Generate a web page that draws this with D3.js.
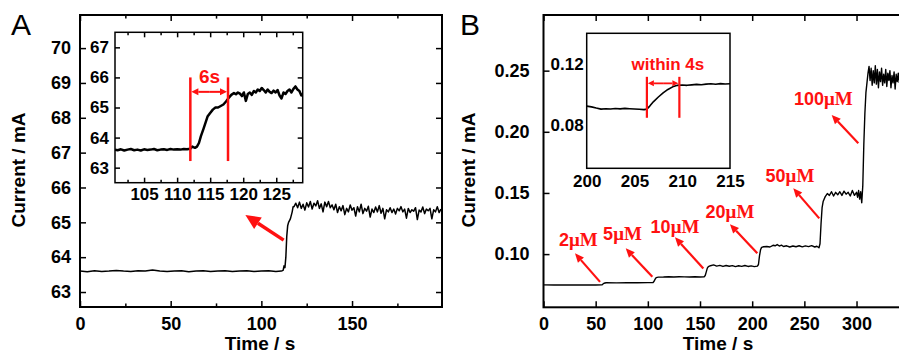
<!DOCTYPE html>
<html>
<head>
<meta charset="utf-8">
<script src="https://cdn.jsdelivr.net/npm/d3@7"></script>
<style>
  body { margin: 0; background: #fff; }
  text { font-family: "Liberation Sans", Arial, sans-serif; }
  .tick line { stroke: #000; stroke-width: 1.5; }
</style>
</head>
<body>
<svg width="899" height="354"></svg>
<script>
// ---- data (time s, current mA) ----
const aBase = [[0,63.6],[4,63.58],[8,63.61],[12,63.59],[16,63.6],[20,63.62],[24,63.6],[28,63.59],[32,63.61],[36,63.6],
  [40,63.63],[44,63.6],[48,63.59],[52,63.6],[56,63.61],[60,63.58],[64,63.6],[68,63.61],[72,63.59],[76,63.6],[80,63.61],
  [84,63.59],[88,63.6],[92,63.61],[96,63.59],[100,63.6],[104,63.61],[108,63.59],[111,63.6],[112,63.62],[112.5,63.75],
  [113,63.7],[113.5,64.0],[114,64.6],[114.5,64.9],[115,65.0],[116,65.1],[117,65.3],[117.5,65.45]];
const aPlateauStart = 118;
const aPlateau = [65.45,65.55,65.42,65.58,65.40,65.52,65.35,65.56,65.44,65.60,65.38,65.55,65.47,65.62,65.40,65.53,
  65.30,65.58,65.45,65.60,65.42,65.50,65.36,65.52,65.28,65.45,65.33,65.48,65.22,65.40,65.30,65.50,65.35,65.42,65.18,
  65.45,65.30,65.52,65.25,65.40,65.32,65.46,65.15,65.38,65.28,65.44,65.30,65.48,65.26,65.40,65.10,65.36,65.30,65.42,
  65.28,65.38,65.24,65.40,65.33,65.45,65.30,65.38,65.12,65.40,65.28,65.36,65.32,65.42,65.08,65.35,65.30,65.44,65.25,
  65.38,65.33,65.40,65.10,65.36,65.30,65.45,65.28,65.38];
const aInset = [[100.6,63.6],[101,63.58],[101.5,63.61],[102,63.57],[102.5,63.6],[103,63.62],[103.5,63.58],[104,63.6],
  [104.5,63.57],[105,63.61],[105.5,63.59],[106,63.6],[106.5,63.62],[107,63.58],[107.5,63.6],[108,63.61],[108.5,63.59],
  [109,63.62],[109.5,63.6],[110,63.61],[110.5,63.6],[111,63.62],[111.5,63.61],[112,63.63],[112.3,63.7],[112.7,63.66],
  [113,63.7],[113.3,63.82],[113.6,64.05],[114,64.3],[114.3,64.5],[114.6,64.7],[115,64.82],[115.4,64.93],[115.8,65.0],
  [116.2,65.0],[116.6,65.05],[117,65.1],[117.4,65.2],[117.8,65.32],[118.2,65.42],[118.6,65.48],[118.9,65.44],[119.2,65.5],
  [119.5,65.46],[119.8,65.38],[120.1,65.5],[120.4,65.22],[120.7,65.45],[121,65.5],[121.3,65.42],[121.6,65.55],[121.9,65.5],
  [122.2,65.6],[122.5,65.55],[122.8,65.65],[123.1,65.58],[123.4,65.5],[123.7,65.6],[124,65.52],[124.3,65.48],[124.6,65.56],
  [124.9,65.5],[125.2,65.58],[125.5,65.4],[125.8,65.3],[126.1,65.5],[126.4,65.45],[126.7,65.55],[127,65.6],[127.3,65.5],
  [127.6,65.62],[127.9,65.7],[128.2,65.6],[128.5,65.55],[128.8,65.4],[129,65.45]];
const bTrace = [[0,0.0748],[10,0.0747],[20,0.0748],[30,0.0747],[40,0.0748],[50,0.0747],[56,0.0748],[57,0.0755],[58,0.0762],
  [60,0.0766],[70,0.0765],[80,0.0767],[90,0.0766],[100,0.0767],[105,0.0768],[106,0.0778],[107,0.0795],[108,0.0808],
  [110,0.0812],[115,0.0813],[120,0.0815],[125,0.0813],[130,0.0815],[135,0.0814],[140,0.0813],[145,0.0815],[150,0.0813],
  [154,0.0815],[155,0.0825],[156,0.0855],[157,0.0885],[158,0.0898],[160,0.0905],[163,0.0912],[166,0.0902],[169,0.0908],
  [172,0.0899],[175,0.0907],[178,0.0901],[181,0.0906],[184,0.0898],[187,0.0905],[190,0.0900],[193,0.0907],[196,0.0899],
  [199,0.0904],[202,0.0898],[205,0.0902],[206,0.0915],[207,0.0985],[208,0.1035],[209,0.1055],[211,0.106],[214,0.1062],
  [217,0.1058],[220,0.1072],[222,0.1068],[224,0.1078],[226,0.1066],[228,0.1073],[230,0.1062],[233,0.1068],[236,0.1058],
  [239,0.1066],[242,0.1060],[245,0.1068],[248,0.1059],[251,0.1067],[254,0.1061],[257,0.1069],[260,0.1058],[262,0.1064],
  [264,0.1052],[265,0.1085],[266,0.125],[267,0.138],[268,0.143],[270,0.147],[272,0.1495],[274,0.148],[276,0.151],
  [278,0.1475],[280,0.1505],[282,0.1485],[284,0.151],[286,0.148],[288,0.1515],[290,0.149],[292,0.1505],[294,0.1475],
  [296,0.152],[298,0.148],[300,0.1505],[301,0.1465],[302,0.152],[303,0.145],[304,0.151],[305,0.142],[305.5,0.149],
  [306,0.156],[307,0.19],[308,0.215],[309,0.232],[310,0.24],[311,0.248],[312,0.2535],[313,0.242],[314,0.252],[315,0.238],
  [316,0.25],[317,0.24],[318,0.254],[319,0.239],[320,0.251],[321,0.236],[322,0.249],[323,0.241],[324,0.252],[325,0.238],
  [326,0.247],[327,0.24],[328,0.251],[329,0.237],[330,0.248],[331,0.242],[332,0.25],[333,0.236],[334,0.246],[335,0.24],
  [336,0.249],[337,0.235],[338,0.247],[339,0.241],[340,0.248],[341,0.24]];
const bInset = [[200,0.0925],[200.5,0.092],[201,0.0912],[201.5,0.0905],[202,0.0908],[202.5,0.0906],[203,0.0909],
  [203.5,0.0907],[204,0.091],[204.5,0.0908],[205,0.0906],[205.5,0.0904],[206,0.0902],[206.3,0.0905],[206.6,0.0925],
  [207,0.0955],[207.5,0.0985],[208,0.1012],[208.5,0.1035],[209,0.1052],[209.5,0.1062],[210,0.1064],[210.5,0.1062],
  [211,0.1065],[211.5,0.1068],[212,0.1066],[212.5,0.107],[213,0.1072],[213.5,0.1069],[214,0.1073],[214.5,0.1071],[215,0.1072]];

// ticks
const aXTicks = [0, 50, 100, 150], aXMinor = [25, 75, 125, 175];
const aYTicks = [63, 64, 65, 66, 67, 68, 69, 70];
const aInXTicks = [105, 110, 115, 120, 125], aInXMinor = [102.5, 107.5, 112.5, 117.5, 122.5, 127.5];
const aInYTicks = [63, 64, 65, 66, 67];
const bXTicks = [0, 50, 100, 150, 200, 250, 300];
const bYTicks = [0.10, 0.15, 0.20, 0.25];
const bInXTicks = [200, 205, 210, 215], bInYTicks = [0.08, 0.12];

// annotations
const doses = ['2', '5', '10', '20', '50', '100'];
const doseText = [[33.4,0.1068],[75.7,0.1114],[126,0.1169],[178.7,0.1292],[236.2,0.1592],[268.2,0.2219]];
const doseArrow = [[54.2,0.0773,30.2,0.1006],[104.3,0.0814,78.8,0.1047],[153.2,0.0883,126,0.1137],
  [204.9,0.1006,178.7,0.1245],[264.3,0.1292,239.4,0.1538],[301.7,0.1906,276.2,0.2137]];
const aMarks = [112, 117.7];
const bMarks = [206.3, 209.7];

const red = '#ff1111';
let svg = d3.select('svg');

function arrow(g, x1, y1, x2, y2, w, hl, hw) {
  let dx = x2 - x1, dy = y2 - y1, len = Math.hypot(dx, dy);
  let ux = dx / len, uy = dy / len;
  let bx = x2 - ux * hl, by = y2 - uy * hl;
  g.append('line').attr('x1', x1).attr('y1', y1).attr('x2', bx).attr('y2', by)
    .attr('stroke', red).attr('stroke-width', w);
  g.append('path')
    .attr('d', 'M' + x2 + ',' + y2 + 'L' + (bx - uy * hw / 2) + ',' + (by + ux * hw / 2) +
      'L' + (bx + uy * hw / 2) + ',' + (by - ux * hw / 2) + 'Z')
    .attr('fill', red);
}

function frame(g, x, y, o) {
  let [x0, x1] = x.range(), [y0, y1] = y.range();
  g.append('rect').attr('x', x0).attr('y', y1).attr('width', x1 - x0).attr('height', y0 - y1)
    .attr('fill', o.fill || 'none').attr('stroke', '#000').attr('stroke-width', o.sw);
  let fs = o.fs + 'px';
  let bx = g.append('g').attr('transform', 'translate(0,' + y0 + ')')
    .call(d3.axisBottom(x).tickValues(o.xt).tickSize(o.tick ? -o.tick : 0).tickPadding(o.xpad).tickFormat(d3.format('d')));
  bx.selectAll('text').attr('font-size', fs).attr('font-weight', 'bold').attr('fill', '#000');
  let ly = g.append('g').attr('transform', 'translate(' + x0 + ',0)')
    .call(d3.axisLeft(y).tickValues(o.yt).tickSize(o.tick ? -o.tick : 0).tickPadding(o.ypad).tickFormat(o.yf));
  ly.selectAll('text').attr('font-size', fs).attr('font-weight', 'bold').attr('fill', '#000');
  if (o.tick) {
    g.append('g').attr('transform', 'translate(0,' + y1 + ')')
      .call(d3.axisTop(x).tickValues(o.xt.concat(o.xextra || [])).tickSize(-o.tick).tickFormat(''));
    if (o.xextra) g.append('g').attr('transform', 'translate(0,' + y0 + ')')
      .call(d3.axisBottom(x).tickValues(o.xextra).tickSize(-o.tick).tickFormat(''));
    if (o.right) g.append('g').attr('transform', 'translate(' + x1 + ',0)')
      .call(d3.axisRight(y).tickValues(o.yt).tickSize(-o.tick).tickFormat(''));
    if (o.xm) {
      g.append('g').attr('transform', 'translate(0,' + y0 + ')')
        .call(d3.axisBottom(x).tickValues(o.xm).tickSize(-o.tick * 0.6).tickFormat(''));
      g.append('g').attr('transform', 'translate(0,' + y1 + ')')
        .call(d3.axisTop(x).tickValues(o.xm).tickSize(-o.tick * 0.6).tickFormat(''));
    }
  }
  g.selectAll('.domain').remove();
}

function trace(g, x, y, data, sw, id) {
  let [x0, x1] = x.range(), [y0, y1] = y.range();
  svg.append('clipPath').attr('id', id).append('rect')
    .attr('x', x0).attr('y', y1).attr('width', x1 - x0).attr('height', y0 - y1);
  g.append('path').datum(data)
    .attr('clip-path', 'url(#' + id + ')')
    .attr('d', d3.line().x(d => x(d[0])).y(d => y(d[1])))
    .attr('fill', 'none').attr('stroke', '#000').attr('stroke-width', sw).attr('stroke-linejoin', 'round');
}

// ---------- panel A ----------
let gA = svg.append('g');
let xA = d3.scaleLinear().domain([0, 199.6]).range([80, 442]);
let yA = d3.scaleLinear().domain([62.57, 70.95]).range([307, 15]);
frame(gA, xA, yA, {xt: aXTicks, xm: aXMinor, yt: aYTicks, tick: 6, right: true, xpad: 10, ypad: 9,
  yf: d3.format('d'), fs: 18, sw: 2});
let aData = aBase.concat(aPlateau.map((v, i) => [aPlateauStart + i, v]));
trace(gA, xA, yA, aData, 1.5, 'clipA');
arrow(gA, xA(112.3), yA(64.49), xA(91.2), yA(65.21), 3.5, 15, 14);

// inset A
let xAi = d3.scaleLinear().domain([100.6, 129]).range([115, 302.7]);
let yAi = d3.scaleLinear().domain([62.5, 67.5]).range([182.7, 32.3]);
frame(gA, xAi, yAi, {xt: aInXTicks, xm: aInXMinor, yt: aInYTicks, tick: 5, right: true, xpad: 5, ypad: 6,
  yf: d3.format('d'), fs: 17, sw: 1.5, fill: '#fff'});
trace(gA, xAi, yAi, aInset, 2.5, 'clipAi');
aMarks.forEach(t => gA.append('line').attr('x1', xAi(t)).attr('x2', xAi(t))
  .attr('y1', yAi(63.22)).attr('y2', yAi(66.0)).attr('stroke', red).attr('stroke-width', 2.5));
let amid = (xAi(aMarks[0]) + xAi(aMarks[1])) / 2;
arrow(gA, amid, yAi(65.52), xAi(aMarks[0]) + 1, yAi(65.52), 2, 7, 7);
arrow(gA, amid, yAi(65.52), xAi(aMarks[1]) - 1, yAi(65.52), 2, 7, 7);
gA.append('text').attr('x', xAi(114.9)).attr('y', yAi(65.8)).attr('text-anchor', 'middle')
  .attr('font-size', '19px').attr('font-weight', 'bold').attr('fill', red).text('6s');

// ---------- panel B ----------
let gB = svg.append('g');
let xB = d3.scaleLinear().domain([0, 350]).range([543.5, 908.7]);
let yB = d3.scaleLinear().domain([0.0565, 0.2955]).range([307.3, 15]);
frame(gB, xB, yB, {xt: bXTicks, xextra: [350], yt: bYTicks, tick: 6, right: false, xpad: 10, ypad: 14,
  yf: d3.format('.2f'), fs: 18, sw: 2});
trace(gB, xB, yB, bTrace, 1.4, 'clipB');
doses.forEach((d, i) => {
  let t = gB.append('text').attr('x', xB(doseText[i][0])).attr('y', yB(doseText[i][1]))
    .attr('text-anchor', 'middle').attr('fill', red).attr('font-size', '18px').attr('font-weight', 'bold');
  t.append('tspan').text(d);
  t.append('tspan').attr('font-family', '"Liberation Serif", "Times New Roman", serif').attr('font-size', '19px').text('μM');
  let a = doseArrow[i];
  arrow(gB, xB(a[0]), yB(a[1]), xB(a[2]), yB(a[3]), 2.2, 9, 8);
});

// inset B
let xBi = d3.scaleLinear().domain([200, 215]).range([586.7, 730]);
let yBi = d3.scaleLinear().domain([0.0515, 0.1405]).range([168.3, 33.3]);
frame(gB, xBi, yBi, {xt: bInXTicks, yt: bInYTicks, tick: 0, xpad: 7, ypad: 3,
  yf: d3.format('.2f'), fs: 17, sw: 1.5, fill: '#fff'});
trace(gB, xBi, yBi, bInset, 1.6, 'clipBi');
bMarks.forEach(t => gB.append('line').attr('x1', xBi(t)).attr('x2', xBi(t))
  .attr('y1', yBi(0.0848)).attr('y2', yBi(0.1118)).attr('stroke', red).attr('stroke-width', 2.2));
let bmid = (xBi(bMarks[0]) + xBi(bMarks[1])) / 2;
arrow(gB, bmid, yBi(0.1075), xBi(bMarks[0]) + 1, yBi(0.1075), 1.8, 6, 6);
arrow(gB, bmid, yBi(0.1075), xBi(bMarks[1]) - 1, yBi(0.1075), 1.8, 6, 6);
gB.append('text').attr('x', xBi(208.5)).attr('y', yBi(0.1162)).attr('text-anchor', 'middle')
  .attr('font-size', '17px').attr('font-weight', 'bold').attr('fill', red).text('within 4s');

// ---------- titles ----------
[[gA, 'A', 11, 260, 25], [gB, 'B', 460, 718, 475]].forEach(p => {
  p[0].append('text').attr('x', p[2]).attr('y', 35).attr('font-size', '30px').text(p[1]);
  p[0].append('text').attr('x', p[3]).attr('y', 350).attr('text-anchor', 'middle')
    .attr('font-size', '19px').attr('font-weight', 'bold').text('Time / s');
  p[0].append('text').attr('transform', 'translate(' + p[4] + ',170) rotate(-90)').attr('text-anchor', 'middle')
    .attr('font-size', '19px').attr('font-weight', 'bold').text('Current / mA');
});
</script>
</body>
</html>
